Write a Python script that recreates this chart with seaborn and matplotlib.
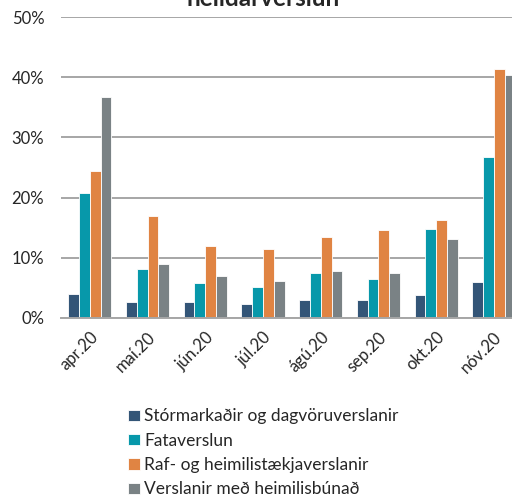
import numpy as np
import pandas as pd
import matplotlib.pyplot as plt
import seaborn as sns

# Data (share of total retail, %)
months = ['apr.20', 'maí.20', 'jún.20', 'júl.20', 'ágú.20', 'sep.20', 'okt.20', 'nóv.20']
series = ['Stórmarkaðir og dagvöruverslanir', 'Fataverslun',
          'Raf- og heimilistækjaverslanir', 'Verslanir með heimilisbúnað']
storm = [4.0, 2.7, 2.7, 2.4, 3.0, 3.0, 3.8, 5.9]
fata = [20.8, 8.2, 5.8, 5.1, 7.5, 6.4, 14.8, 26.8]
raf = [24.5, 17.0, 12.0, 11.5, 13.5, 14.6, 16.3, 41.3]
heimili = [36.7, 9.0, 7.0, 6.2, 7.8, 7.4, 13.1, 40.3]
colors = ['#335577', '#0798AA', '#E08443', '#7A8285']

# Long-format table for seaborn
df = pd.DataFrame({
    'month': months * 4,
    'series': np.repeat(series, len(months)),
    'value': storm + fata + raf + heimili,
})

sns.set_style('white')
plt.rcParams['font.family'] = ['Lato', 'DejaVu Sans']

fig = plt.figure(figsize=(5.12, 5.0), dpi=100)
ax = fig.add_axes([0.119, 0.364, 0.902, 0.602])

sns.barplot(data=df, x='month', y='value', hue='series', order=months,
            hue_order=series, palette=colors, width=0.75, saturation=1,
            edgecolor='white', linewidth=0.6, ax=ax, legend=True)

ax.set_ylim(0, 50)
ax.set_xlim(-0.5, len(months) - 0.5)
ax.set_yticks(range(0, 51, 10))
ax.set_yticklabels([f'{v}%' for v in range(0, 51, 10)], fontsize=12)
ax.yaxis.grid(True, color='#A6A6A6', linewidth=1.4)
ax.set_axisbelow(True)
ax.tick_params(axis='y', length=0, pad=12)

ax.set_xticks(range(len(months)))
ax.set_xticklabels(months, rotation=45, ha='right', rotation_mode='anchor', fontsize=12)
ax.tick_params(axis='x', which='major', length=0, pad=8)
ax.set_xticks(np.arange(-0.5, len(months), 1), minor=True)
ax.tick_params(axis='x', which='minor', length=5, width=1.2, color='#A6A6A6', direction='out')

for s in ['top', 'right', 'left']:
    ax.spines[s].set_visible(False)
ax.spines['bottom'].set_color('#A6A6A6')
ax.spines['bottom'].set_linewidth(1.4)
ax.set_xlabel('')
ax.set_ylabel('')

# Title is clipped at the top edge in the original
fig.text(0.514, 0.987, 'heildarverslun', ha='center', va='baseline',
         fontsize=17.5, fontweight='bold')

handles, labels = ax.get_legend_handles_labels()
ax.get_legend().remove()
fig.legend(handles, labels, loc='upper left', bbox_to_anchor=(0.237, 0.197),
           frameon=False, fontsize=12.5, handlelength=0.65, handleheight=0.65,
           handletextpad=0.25, labelspacing=0.48, borderaxespad=0)

plt.savefig('out.png', dpi=100)
